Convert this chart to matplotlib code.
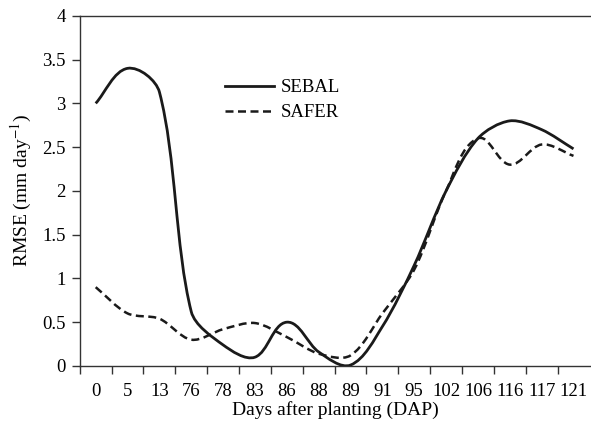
import numpy as np
import matplotlib
matplotlib.use("Agg")
import matplotlib.pyplot as plt
from matplotlib.path import Path
from matplotlib.patches import PathPatch
from matplotlib.lines import Line2D

days = ["0", "5", "13", "76", "78", "83", "86", "88", "89", "91",
        "95", "102", "106", "116", "117", "121"]
sebal = [3.0, 3.4, 3.13, 0.62, 0.24, 0.1, 0.5, 0.16, 0.01, 0.45,
         1.15, 2.0, 2.6, 2.8, 2.7, 2.48]
safer = [0.9, 0.6, 0.54, 0.3, 0.42, 0.49, 0.33, 0.14, 0.12, 0.6,
         1.1, 2.0, 2.6, 2.3, 2.53, 2.4]

plt.rcParams['font.family'] = ['Liberation Serif', 'DejaVu Serif']
plt.rcParams['font.size'] = 14
plt.rcParams['mathtext.fontset'] = 'stix'

YSCALE = 2.72  # screen aspect: one y unit vs one category step


def smooth_path(y, t=0.3):
    # smoothed line like a spreadsheet chart: bezier with tangent along
    # neighbour chord, length scaled by the segment length on screen
    x = np.arange(len(y), dtype=float)
    pts = np.column_stack([x, np.asarray(y, dtype=float) * YSCALE])
    n = len(pts)
    dirs = []
    for i in range(n):
        a = pts[max(i - 1, 0)]
        b = pts[min(i + 1, n - 1)]
        d = b - a
        dirs.append(d / np.hypot(*d))
    verts = [pts[0]]
    codes = [Path.MOVETO]
    for i in range(n - 1):
        seg = np.hypot(*(pts[i + 1] - pts[i]))
        c1 = pts[i] + dirs[i] * seg * t
        c2 = pts[i + 1] - dirs[i + 1] * seg * t
        verts += [c1, c2, pts[i + 1]]
        codes += [Path.CURVE4] * 3
    verts = np.array(verts)
    verts[:, 1] /= YSCALE
    return Path(verts, codes)


fig = plt.figure(figsize=(5.91, 4.28), dpi=100)
ax = fig.add_axes([0.135, 0.145, 0.865, 0.818])

dash = (0, (3.2, 1.8))
ax.add_patch(PathPatch(smooth_path(sebal), fill=False, lw=2.0, color='#1a1a1a',
                       capstyle='butt'))
ax.add_patch(PathPatch(smooth_path(safer), fill=False, lw=1.8, color='#1a1a1a',
                       linestyle=dash, capstyle='butt'))

ax.set_xlim(-0.5, len(days) - 0.45)
ax.set_ylim(0, 4)
ax.set_yticks(np.arange(0, 4.01, 0.5))
ax.set_yticklabels(["0", "0.5", "1", "1.5", "2", "2.5", "3", "3.5", "4"], fontsize=13.5)
ax.set_xticks(np.arange(len(days)))
ax.set_xticklabels(days, fontsize=13.5)
ax.set_xticks(np.arange(len(days)) - 0.5, minor=True)
ax.tick_params(axis='x', which='major', length=0, pad=12)
ax.tick_params(axis='x', which='minor', length=6, width=1, color='#333333', direction='out')
ax.tick_params(axis='y', length=6, width=1, color='#333333', direction='out', pad=4)

for s in ['left', 'bottom', 'top']:
    ax.spines[s].set_color('#333333')
    ax.spines[s].set_linewidth(1.0)
ax.spines['right'].set_visible(False)

ax.set_xlabel("Days after planting (DAP)", labelpad=1)
ax.set_ylabel("RMSE (mm day$^{-1}$)", labelpad=6)

handles = [Line2D([], [], color='#1a1a1a', lw=2.0),
           Line2D([], [], color='#1a1a1a', lw=1.8, linestyle=dash)]
ax.legend(handles, ["SEBAL", "SAFER"], loc='upper left', bbox_to_anchor=(0.27, 0.84),
          frameon=False, handlelength=2.6, handletextpad=0.35, labelspacing=0.4,
          borderaxespad=0, fontsize=13.5)

fig.savefig("out.png", dpi=100)
